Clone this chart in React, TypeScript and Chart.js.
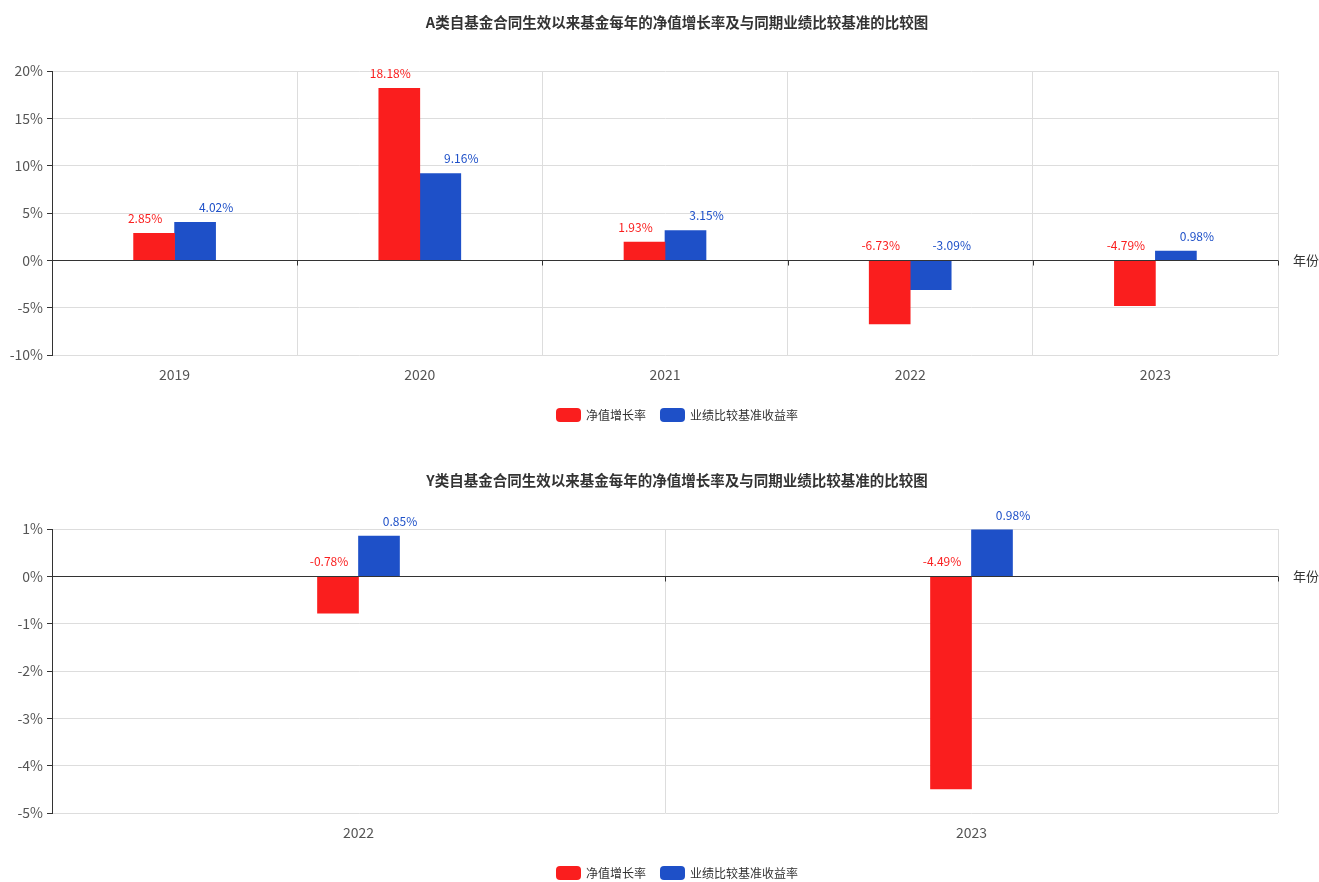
import React, { useEffect, useRef } from 'react';
import { Chart, registerables } from 'chart.js';

Chart.register(...registerables);

const FONT = "'Noto Sans CJK SC', 'Noto Sans', sans-serif";

const seriesNames = ['净值增长率', '业绩比较基准收益率'];
const seriesColors = ['#fa1e1e', '#1e50c8'];
const labelOffsets = [-9, 21];
const axisName = '年份';

const titleA = 'A类自基金合同生效以来基金每年的净值增长率及与同期业绩比较基准的比较图';
const yearsA = ['2019', '2020', '2021', '2022', '2023'];
const navA = [2.85, 18.18, 1.93, -6.73, -4.79];
const benchA = [4.02, 9.16, 3.15, -3.09, 0.98];
const yMinA = -10;
const yMaxA = 20;
const yStepA = 5;

const titleY = 'Y类自基金合同生效以来基金每年的净值增长率及与同期业绩比较基准的比较图';
const yearsY = ['2022', '2023'];
const navY = [-0.78, -4.49];
const benchY = [0.85, 0.98];
const yMinY = -5;
const yMaxY = 1;
const yStepY = 1;

const extrasPlugin = {
  id: 'extras',
  afterDatasetsDraw(chart: any) {
    const { ctx, chartArea, scales } = chart;
    const x = scales.x;
    const y = scales.y;
    const zero = y.getPixelForValue(0);
    const zy = Math.round(zero) + 0.5;
    ctx.save();
    ctx.strokeStyle = '#333';
    ctx.lineWidth = 1;
    const n = chart.data.labels.length;
    const bounds: number[] = [chartArea.left];
    for (let i = 0; i < n - 1; i++) {
      bounds.push((x.getPixelForValue(i) + x.getPixelForValue(i + 1)) / 2);
    }
    bounds.push(chartArea.right);
    bounds.forEach((b) => {
      const px = Math.round(b) + 0.5;
      ctx.beginPath();
      ctx.moveTo(px, zy);
      ctx.lineTo(px, zy + 5);
      ctx.stroke();
    });
    ctx.beginPath();
    ctx.moveTo(chartArea.left, zy);
    ctx.lineTo(chartArea.right, zy);
    ctx.stroke();

    // value labels
    ctx.font = `12px ${FONT}`;
    ctx.textAlign = 'center';
    ctx.textBaseline = 'middle';
    chart.data.datasets.forEach((ds: any, di: number) => {
      const meta = chart.getDatasetMeta(di);
      ctx.fillStyle = ds.backgroundColor;
      meta.data.forEach((el: any, i: number) => {
        const v = ds.data[i];
        const top = Math.min(el.y, el.base);
        ctx.fillText(v.toFixed(2) + '%', el.x + labelOffsets[di], top - 15);
      });
    });

    // axis name
    ctx.fillStyle = '#333';
    ctx.font = `13px ${FONT}`;
    ctx.textAlign = 'left';
    ctx.fillText(axisName, chartArea.right + 15, zero);

    const cx = (chartArea.left + chartArea.right) / 2 + 12;

    // title
    ctx.fillStyle = '#333';
    ctx.font = `bold 14.5px ${FONT}`;
    ctx.textAlign = 'center';
    ctx.fillText(chart.options.plugins.customTitle, cx, chartArea.top - 49);

    // legend
    ctx.font = `12px ${FONT}`;
    const boxW = 25;
    const boxH = 14;
    const gapText = 5;
    const gapItem = 14;
    const widths = chart.data.datasets.map((ds: any) => boxW + gapText + ctx.measureText(ds.label).width);
    const total = widths.reduce((a: number, b: number) => a + b, 0) + gapItem * (widths.length - 1);
    let lx = cx - total / 2;
    const ly = chartArea.bottom + 60;
    ctx.textAlign = 'left';
    chart.data.datasets.forEach((ds: any, di: number) => {
      ctx.fillStyle = ds.backgroundColor;
      ctx.beginPath();
      ctx.roundRect(lx, ly - boxH / 2, boxW, boxH, 4);
      ctx.fill();
      ctx.fillStyle = '#333';
      ctx.fillText(ds.label, lx + boxW + gapText, ly);
      lx += widths[di] + gapItem;
    });
    ctx.restore();
  },
};

function BarChart(props: {
  title: string;
  labels: string[];
  nav: number[];
  bench: number[];
  yMin: number;
  yMax: number;
  yStep: number;
}) {
  const ref = useRef<HTMLCanvasElement | null>(null);
  useEffect(() => {
    if (!ref.current) return;
    const chart = new Chart(ref.current, {
      type: 'bar',
      data: {
        labels: props.labels,
        datasets: [
          {
            label: seriesNames[0],
            data: props.nav,
            backgroundColor: seriesColors[0],
            borderWidth: 0,
            barThickness: 41,
          },
          {
            label: seriesNames[1],
            data: props.bench,
            backgroundColor: seriesColors[1],
            borderWidth: 0,
            barThickness: 41,
          },
        ],
      },
      options: {
        animation: false,
        responsive: true,
        maintainAspectRatio: false,
        events: [],
        layout: { padding: { left: 0, right: 41, top: 71, bottom: 59 } },
        plugins: {
          customTitle: props.title,
          tooltip: { enabled: false },
          title: { display: false },
          legend: { display: false },
        },
        scales: {
          x: {
            grid: { color: '#ddd', drawTicks: false, offset: true },
            border: { display: false },
            ticks: { color: '#555', padding: 11, font: { family: FONT, size: 14 } },
            afterFit: (scale: any) => {
              scale.height = 44;
            },
          },
          y: {
            min: props.yMin,
            max: props.yMax,
            ticks: {
              stepSize: props.yStep,
              color: '#555',
              padding: 4,
              font: { family: FONT, size: 14 },
              callback: (v: any) => v + '%',
            },
            grid: {
              color: (c: any) => (c.tick && c.tick.value === 0 ? '#333' : '#ddd'),
              tickColor: '#333',
              tickLength: 5,
              drawTicks: true,
            },
            border: { display: true, color: '#333', width: 1 },
            afterFit: (scale: any) => {
              scale.width = 52;
            },
          },
        },
      } as any,
      plugins: [extrasPlugin],
    });
    return () => chart.destroy();
  }, []);
  return (
    <div style={{ position: 'relative', width: 1319, height: 458 }}>
      <canvas ref={ref} />
    </div>
  );
}

export default function App() {
  return (
    <div
      style={{
        position: 'fixed',
        left: 0,
        top: 0,
        width: 1319,
        height: 882,
        overflow: 'hidden',
        background: '#fff',
      }}
    >
      <BarChart title={titleA} labels={yearsA} nav={navA} bench={benchA} yMin={yMinA} yMax={yMaxA} yStep={yStepA} />
      <BarChart title={titleY} labels={yearsY} nav={navY} bench={benchY} yMin={yMinY} yMax={yMaxY} yStep={yStepY} />
    </div>
  );
}
